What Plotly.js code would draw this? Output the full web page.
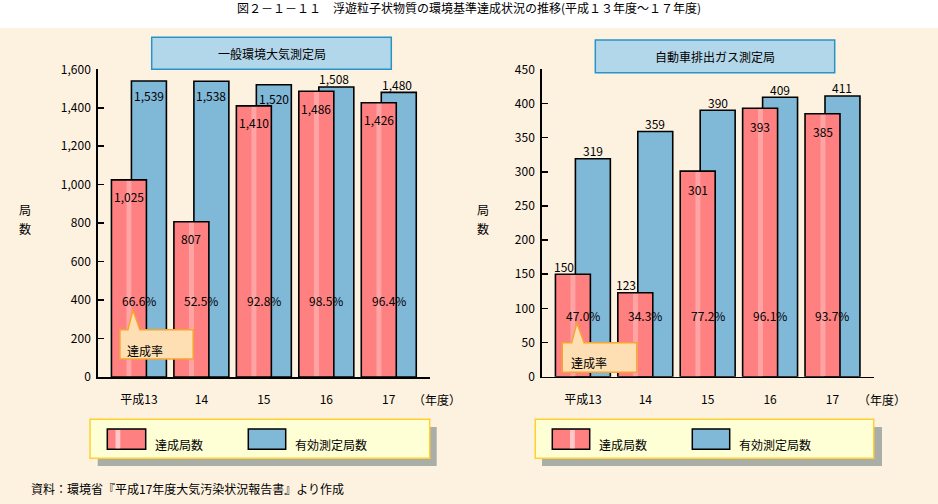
<!DOCTYPE html>
<html>
<head>
<meta charset="utf-8">
<script src="https://cdn.plot.ly/plotly-3.0.1.min.js"></script>
<style>
  html, body { margin: 0; padding: 0; background: #FDF2E0; }
  #chart { width: 938px; height: 504px; }
</style>
</head>
<body>
<div id="chart"></div>
<script>
// ---------------- data ----------------
const years = ['平成13', '14', '15', '16', '17'];
const ippanValid    = [1539, 1538, 1520, 1508, 1480];   // 有効測定局数 (一般環境大気測定局)
const ippanAchieved = [1025, 807, 1410, 1486, 1426];    // 達成局数
const ippanRate     = [66.6, 52.5, 92.8, 98.5, 96.4];   // 達成率 (%)
const jihaiValid    = [319, 359, 390, 409, 411];        // 有効測定局数 (自動車排出ガス測定局)
const jihaiAchieved = [150, 123, 301, 393, 385];        // 達成局数
const jihaiRate     = [47.0, 34.3, 77.2, 96.1, 93.7];   // 達成率 (%)
const yTicksLeft  = [0, 200, 400, 600, 800, 1000, 1200, 1400, 1600];
const yTicksRight = [0, 50, 100, 150, 200, 250, 300, 350, 400, 450];

// ---------------- style ----------------
const W = 938, H = 504;
const px = x => x / W;
const py = y => 1 - y / H;
const FONT = '"Noto Sans CJK JP", "Noto Sans", sans-serif';
const RED = '#FF8080', BLUE = '#80B8D8';
const BAR_W = 0.56, RED_OFF = -0.44, BLUE_OFF = -0.12;
const idx = years.map((_, i) => i);
const fmt = v => v.toLocaleString('en-US');

// label placement (style): 'in' = inside top of bar, 'out' = above bar
const ippanValidPos    = ['in', 'in', 'in', 'out', 'out'];
const ippanAchievedPos = ['in', 'in', 'in', 'in', 'in'];
const jihaiValidPos    = ['out', 'out', 'out', 'out', 'out'];
const jihaiAchievedPos = ['out', 'out', 'in', 'in', 'in'];

function barTrace(vals, color, off, xa, ya, striped) {
  const m = { color: color, line: { color: '#000', width: 1.6 } };
  if (striped) {
    m.pattern = { shape: '|', fgcolor: '#FFC8C8', size: 62.5, solidity: 0.08, fillmode: 'overlay' };
  }
  return {
    type: 'bar', x: idx, y: vals, width: BAR_W, offset: off,
    marker: m, xaxis: xa, yaxis: ya, hoverinfo: 'skip', showlegend: false
  };
}

const data = [
  barTrace(ippanValid, BLUE, BLUE_OFF, 'x', 'y', false),
  barTrace(ippanAchieved, RED, RED_OFF, 'x', 'y', true),
  barTrace(jihaiValid, BLUE, BLUE_OFF, 'x2', 'y2', false),
  barTrace(jihaiAchieved, RED, RED_OFF, 'x2', 'y2', true)
];

const annotations = [];
function valueLabels(vals, pos, off, xr, yr, inShift, outXShift) {
  vals.forEach((v, i) => {
    const inside = pos[i] === 'in';
    annotations.push({
      xref: xr, yref: yr, x: i + off + BAR_W / 2, y: v,
      text: fmt(v), showarrow: false, xanchor: 'center', yanchor: 'middle',
      yshift: inside ? inShift : 8, xshift: inside ? 0 : outXShift,
      font: { family: FONT, size: 12, color: '#000' }
    });
  });
}
valueLabels(ippanValid, ippanValidPos, BLUE_OFF, 'x', 'y', -14, -2);
valueLabels(ippanAchieved, ippanAchievedPos, RED_OFF, 'x', 'y', -17, -8);
valueLabels(jihaiValid, jihaiValidPos, BLUE_OFF, 'x2', 'y2', -14, 0);
valueLabels(jihaiAchieved, jihaiAchievedPos, RED_OFF, 'x2', 'y2', -18, -9);

function rateLabels(rates, xr, yr, yv) {
  rates.forEach((r, i) => {
    annotations.push({
      xref: xr, yref: yr, x: i, y: yv, text: r.toFixed(1) + '%', showarrow: false,
      xanchor: 'center', yanchor: 'middle', font: { family: FONT, size: 12, color: '#000' }
    });
  });
}
rateLabels(ippanRate, 'x', 'y', 396);
rateLabels(jihaiRate, 'x2', 'y2', 89);

function textPx(x, y, text, anchor, size) {
  annotations.push({
    xref: 'paper', yref: 'paper', x: px(x), y: py(y), text: text, showarrow: false,
    xanchor: anchor || 'center', yanchor: 'middle',
    font: { family: FONT, size: size || 12, color: '#000' }
  });
}
// main title
textPx(469, 8, '図２－１－１１　浮遊粒子状物質の環境基準達成状況の推移(平成１３年度～１７年度)', 'center', 12);
// panel titles
textPx(271.5, 54, '一般環境大気測定局');
textPx(715, 56.3, '自動車排出ガス測定局');
// y titles
textPx(25, 209, '局'); textPx(25, 229, '数');
textPx(483, 209, '局'); textPx(483, 229, '数');
// (年度)
textPx(436.7, 399, '（年度）');
textPx(881.7, 399, '（年度）');
// legends
textPx(152.7, 444, '達成局数', 'left');
textPx(292.7, 444, '有効測定局数', 'left');
textPx(596.7, 444, '達成局数', 'left');
textPx(736.7, 444, '有効測定局数', 'left');
// source
textPx(29.3, 488.3, '資料：環境省『平成17年度大気汚染状況報告書』より作成', 'left');
// callout texts
annotations.push({ xref: 'x', yref: 'y', x: -0.224, y: 140, text: '達成率', showarrow: false,
  xanchor: 'left', yanchor: 'middle', font: { family: FONT, size: 12, color: '#000' } });
annotations.push({ xref: 'x2', yref: 'y2', x: -0.224, y: 20.5, text: '達成率', showarrow: false,
  xanchor: 'left', yanchor: 'middle', font: { family: FONT, size: 12, color: '#000' } });

const shapes = [];
function rectPx(x0, y0, x1, y1, fill, line, lw, layer) {
  shapes.push({
    type: 'rect', xref: 'paper', yref: 'paper',
    x0: px(x0), x1: px(x1), y0: py(y1), y1: py(y0),
    fillcolor: fill, line: { color: line || fill, width: line ? (lw || 1) : 0 },
    layer: layer || 'above'
  });
}
// white header strip
rectPx(0, 0, 938, 28, '#FFFFFF', null, 0, 'below');
// panel title boxes
rectPx(151.7, 37.3, 391.3, 69.3, '#B3D7EA', '#2A93C6', 1.5);
rectPx(595.3, 40, 834.7, 72.7, '#B3D7EA', '#2A93C6', 1.5);
// legend boxes with shadows
rectPx(97.7, 427, 436.7, 466, '#A9AEA8');
rectPx(90, 419.3, 429.7, 458.3, '#FFFFD6', '#FFD030', 1.5);
rectPx(107.3, 429, 145.7, 449.3, RED, '#000', 1.5);
rectPx(115.5, 430, 120.3, 448.3, '#FFC8C8');
rectPx(248.3, 429, 285.7, 449.3, BLUE, '#000', 1.5);
rectPx(542, 427, 882, 466, '#A9AEA8');
rectPx(535.3, 419.3, 873.7, 458.3, '#FFFFD6', '#FFD030', 1.5);
rectPx(552.3, 429, 589.7, 449.3, RED, '#000', 1.5);
rectPx(570, 430, 574.8, 448.3, '#FFC8C8');
rectPx(692.3, 429, 729.7, 449.3, BLUE, '#000', 1.5);

// callouts (speech bubbles)
function bubble(xr, yr, x0, x1, yTop, yBot, b0, b1, ax, ay) {
  shapes.push({
    type: 'path', xref: xr, yref: yr,
    path: `M${x0},${yTop} L${b0},${yTop} L${ax},${ay} L${b1},${yTop} L${x1},${yTop} L${x1},${yBot} L${x0},${yBot} Z`,
    fillcolor: '#FDDFB3', line: { color: '#F5A530', width: 1.5 }, layer: 'above'
  });
}
bubble('x', 'y', -0.304, 0.869, 245.7, 93.5, -0.176, 0.016, -0.096, 348);
bubble('x2', 'y2', -0.331, 0.865, 49.8, 6.4, -0.18, 0.02, -0.096, 78.6);

const xCommon = {
  tickmode: 'array', tickvals: idx, ticktext: years, ticks: '',
  showline: true, linecolor: '#000', linewidth: 1.5, showgrid: false, zeroline: false,
  ticklabelstandoff: 11, tickfont: { family: FONT, size: 12, color: '#000' }, fixedrange: true
};
const yCommon = {
  ticks: 'inside', ticklen: 6, tickwidth: 1.5, tickcolor: '#000',
  showline: true, linecolor: '#000', linewidth: 1.5, showgrid: false, zeroline: false,
  tickformat: ',d', ticklabelstandoff: 3,
  tickfont: { family: FONT, size: 12, color: '#000' }, fixedrange: true
};

const layout = {
  width: W, height: H,
  margin: { l: 0, r: 0, t: 0, b: 0 },
  paper_bgcolor: '#FDF2E0', plot_bgcolor: 'rgba(0,0,0,0)',
  barmode: 'overlay', showlegend: false,
  font: { family: FONT, size: 12, color: '#000' },
  xaxis: Object.assign({}, xCommon, { domain: [px(97.7), px(430)], range: [-0.66, 4.66], anchor: 'y' }),
  yaxis: Object.assign({}, yCommon, { domain: [py(377), py(69.3)], range: [0, 1600], tickmode: 'array', tickvals: yTicksLeft, anchor: 'x' }),
  xaxis2: Object.assign({}, xCommon, { domain: [px(541.7), px(874.3)], range: [-0.66, 4.67], anchor: 'y2' }),
  yaxis2: Object.assign({}, yCommon, { domain: [py(376.7), py(69.3)], range: [0, 450], tickmode: 'array', tickvals: yTicksRight, anchor: 'x2' }),
  annotations: annotations,
  shapes: shapes
};

Plotly.newPlot('chart', data, layout, { displayModeBar: false, staticPlot: true });
</script>
</body>
</html>
